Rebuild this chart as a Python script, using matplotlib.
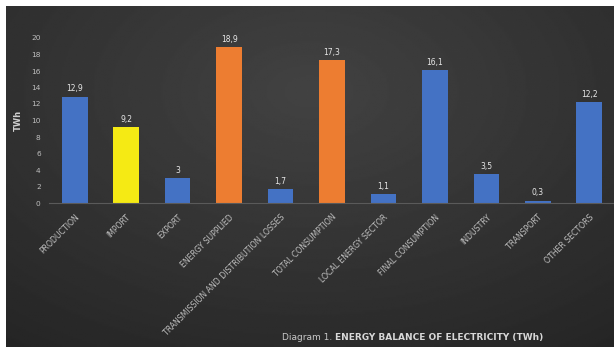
import numpy as np
import matplotlib.pyplot as plt

categories = ["PRODUCTION", "IMPORT", "EXPORT", "ENERGY SUPPLIED",
              "TRANSMISSION AND DISTRIBUTION LOSSES", "TOTAL CONSUMPTION",
              "LOCAL ENERGY SECTOR", "FINAL CONSUMPTION", "INDUSTRY",
              "TRANSPORT", "OTHER SECTORS"]
values = [12.9, 9.2, 3, 18.9, 1.7, 17.3, 1.1, 16.1, 3.5, 0.3, 12.2]
value_labels = ["12,9", "9,2", "3", "18,9", "1,7", "17,3", "1,1", "16,1", "3,5", "0,3", "12,2"]
colors = ["#4472c4", "#f5ea14", "#4472c4", "#ed7d31", "#4472c4", "#ed7d31",
          "#4472c4", "#4472c4", "#4472c4", "#4472c4", "#4472c4"]
yticks = list(range(0, 21, 2))

fig = plt.figure(figsize=(6.14, 3.47), dpi=100, facecolor="white")

# dark radial background
bg = fig.add_axes([6 / 614, 0, 1 - 6 / 614, 1 - 6 / 347])
yy, xx = np.mgrid[0:1:200j, 0:1:350j]
r = np.sqrt(((xx - 0.5) / 0.8) ** 2 + ((yy - 0.25) / 0.9) ** 2)
shade = 0.26 - 0.11 * np.clip(r, 0, 1.2)
bg.imshow(shade, cmap="gray", vmin=0, vmax=1, aspect="auto", extent=[0, 1, 0, 1], origin="upper")
bg.set_axis_off()

ax = fig.add_axes([49 / 614, 1 - 203 / 347, (615 - 49) / 614, (203 - 38) / 347])
ax.patch.set_alpha(0)
x = np.arange(len(categories))
ax.bar(x, values, width=0.5, color=colors, zorder=2)
for xi, v, lab in zip(x, values, value_labels):
    ax.text(xi, v + 0.4, lab, ha="center", va="bottom", fontsize=5.5, color="#e8e8e8")

ax.set_xlim(-0.5, len(categories) - 0.5)
ax.set_ylim(0, 20)
ax.set_yticks(yticks)
ax.set_yticklabels([str(t) for t in yticks], fontsize=5.3, color="#bfbfbf")
ax.set_xticks(x)
ax.set_xticklabels(categories, rotation=45, ha="right", rotation_mode="anchor",
                   fontsize=5.6, color="#bfbfbf")
ax.tick_params(axis="both", length=0, pad=7)
ax.tick_params(axis="y", pad=6)
for s in ["top", "right", "left"]:
    ax.spines[s].set_visible(False)
ax.spines["bottom"].set_color("#5a5a5a")
ax.set_ylabel("TWh", fontsize=6, color="#d0d0d0", fontweight="bold", labelpad=6)

fig.text(0.545, 0.028, "Diagram 1. ", ha="right", va="center", fontsize=6.5, color="#c8c8c8")
fig.text(0.545, 0.028, "ENERGY BALANCE OF ELECTRICITY (TWh)", ha="left", va="center",
         fontsize=6.5, color="#d8d8d8", fontweight="bold")

fig.savefig("out.png", dpi=100, facecolor="white")
